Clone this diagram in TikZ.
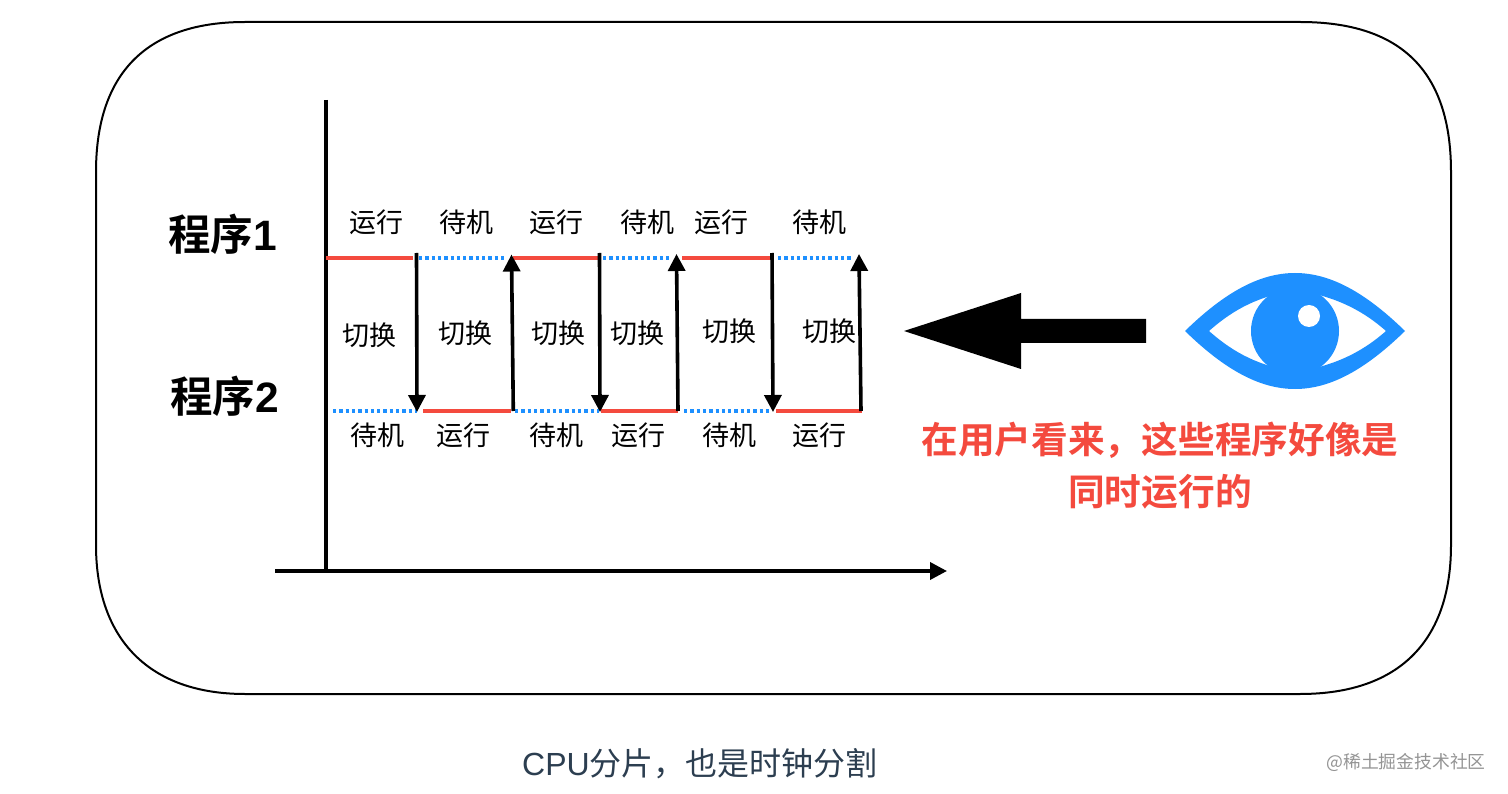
\documentclass[tikz,border=0pt]{standalone}
\usepackage{fontspec}
\setmainfont{Noto Sans CJK SC}
\newfontfamily\bfcjk{Noto Sans CJK SC Bold}
\newfontfamily\lat{Liberation Sans}
\usetikzlibrary{arrows.meta}
\definecolor{redl}{HTML}{F44A3E}
\definecolor{bluel}{HTML}{1E90FF}
\definecolor{capt}{HTML}{2C3E50}
\tikzset{
 px/.style={x=1pt,y=-1pt},
 lbl/.style={font=\fontsize{27}{28}\selectfont,text=black,inner sep=0,anchor=center},
 prog/.style={font=\bfcjk\fontsize{42.5}{44}\selectfont,inner sep=0,anchor=center},
 redtext/.style={font=\bfcjk\fontsize{36.7}{40}\selectfont,text=redl,inner sep=0},
 red line/.style={draw=redl,line width=3.4pt},
 blue line/.style={draw=bluel,line width=3.4pt,dash pattern=on 3.3pt off 3pt},
 switch/.style={draw=black,line width=3.6pt,-{Triangle[length=17pt,width=17pt]}},
 axis/.style={draw=black,line width=3.6pt},
}
\begin{document}
\begin{tikzpicture}[px]
\useasboundingbox (0,0) rectangle (1508,794);
\fill[white] (0,0) rectangle (1508,794);
\draw[line width=2pt,black] (96,172) .. controls (96,70) and (150,22) .. (245,22) -- (1300,22) .. controls (1400,22) and (1451,70) .. (1451,172) -- (1451,545) .. controls (1451,640) and (1400,694) .. (1300,694) -- (245,694) .. controls (150,694) and (96,640) .. (96,545) -- cycle;
\coordinate (ytop) at (325.8,100); \coordinate (ybot) at (325.8,571);
\coordinate (xl) at (275,571); \coordinate (xr) at (947,571);
\draw[axis] (ytop) -- (ybot);
\draw[axis,-{Triangle[length=17pt,width=17pt]}] (xl) -- (xr);
\node[prog] (p1) at (222.5,234) {程序\lat\bfseries 1};
\node[prog] (p2) at (224.5,396) {程序\lat\bfseries 2};
% levels
\coordinate (a0) at (326,258); \coordinate (a1) at (413,258);
\coordinate (a2) at (419,258); \coordinate (a3) at (505,258);
\coordinate (a4) at (513,258); \coordinate (a5) at (599,258);
\coordinate (a6) at (603,258); \coordinate (a7) at (670,258);
\coordinate (a8) at (682,258); \coordinate (a9) at (772,258);
\coordinate (a10) at (778,258); \coordinate (a11) at (852,258);
\coordinate (b0) at (333,411); \coordinate (b1) at (417,411);
\coordinate (b2) at (423,411); \coordinate (b3) at (511,411);
\coordinate (b4) at (515,411); \coordinate (b5) at (599,411);
\coordinate (b6) at (601,411); \coordinate (b7) at (678,411);
\coordinate (b8) at (684,411); \coordinate (b9) at (772,411);
\coordinate (b10) at (776,411); \coordinate (b11) at (862,411);
\draw[red line] (a0)--(a1); \draw[red line] (a4)--(a5); \draw[red line] (a8)--(a9);
\draw[blue line] (a2)--(a3); \draw[blue line] (a6)--(a7); \draw[blue line] (a10)--(a11);
\draw[blue line] (b0)--(b1); \draw[blue line] (b4)--(b5); \draw[blue line] (b8)--(b9);
\draw[red line] (b2)--(b3); \draw[red line] (b6)--(b7); \draw[red line] (b10)--(b11);
\draw[switch] (416.5,253) -- (417,412);
\draw[switch] (513.3,411) -- (511.5,254.5);
\draw[switch] (599.5,253) -- (600,412);
\draw[switch] (678,411) -- (676.5,254);
\draw[switch] (772,253) -- (773,412);
\draw[switch] (861,411) -- (859,254);
\foreach \n/\x/\y/\t in {r1/376/222/运行,s1/466/222/待机,r2/556/222/运行,s2/647/222/待机,r3/721/222/运行,s3/819/222/待机,
 q1/377/435/待机,q2/463/435/运行,q3/556/435/待机,q4/638/435/运行,q5/729/435/待机,q6/819/435/运行,
 c1/369/335/切换,c2/465/333/切换,c3/558/333/切换,c4/637/333/切换,c5/729/331/切换,c6/829/331/切换}
  \node[lbl] (\n) at (\x,\y) {\t};
% big arrow
\fill[black] (904,331) -- (1021,293) -- (1021,319) -- (1146,319) -- (1146,343) -- (1021,343) -- (1021,369) -- cycle;
% eye
\fill[bluel,even odd rule] (1185,331) .. controls (1225,292) and (1260,273) .. (1295,273) .. controls (1330,273) and (1365,292) .. (1405,331) .. controls (1365,370) and (1330,389) .. (1295,389) .. controls (1260,389) and (1225,370) .. (1185,331) -- cycle
 (1209,331) .. controls (1235,308) and (1260,296) .. (1296,290) .. controls (1332,296) and (1360,308) .. (1386,331) .. controls (1360,354) and (1332,366) .. (1296,372) .. controls (1260,366) and (1235,354) .. (1209,331) -- cycle;
\fill[bluel] (1295,331) circle (44);
\fill[white] (1309,316) circle (11);
\node[redtext] (t1) at (1160,440) {在用户看来，这些程序好像是};
\node[redtext] (t2) at (1160,492) {同时运行的};
\node[font=\fontsize{32}{34}\selectfont,text=capt,inner sep=0] (cap) at (700,764) {{\lat CPU}分片，也是时钟分割};
\node[font=\fontsize{17.8}{20}\selectfont,text=black!42,inner sep=0] (wm) at (1406,762) {@稀土掘金技术社区};
\end{tikzpicture}
\end{document}
